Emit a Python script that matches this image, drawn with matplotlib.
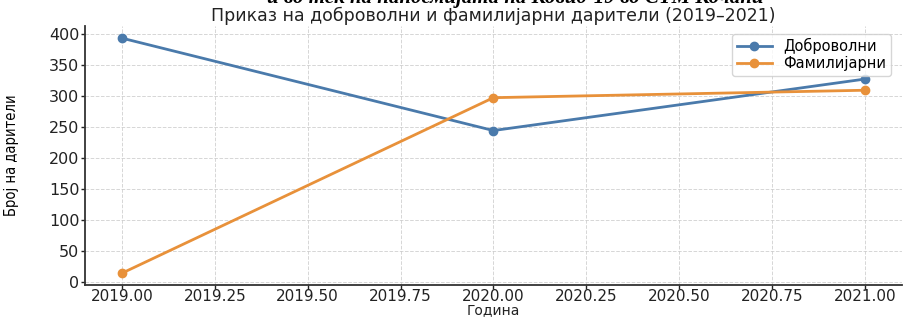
import matplotlib.pyplot as plt

years = [2019, 2020, 2021]
voluntary = [393, 244, 327]
family = [14, 297, 309]
series_labels = ["Доброволни", "Фамилијарни"]

BLUE = "#4a7aab"
ORANGE = "#e8913a"

fig = plt.figure(figsize=(9.12, 3.18), dpi=100)
ax = fig.add_axes([0.093, 0.104, 0.896, 0.813])

ax.plot(years, voluntary, marker="o", markersize=6, linewidth=2, color=BLUE, label=series_labels[0])
ax.plot(years, family, marker="o", markersize=6, linewidth=2, color=ORANGE, label=series_labels[1])

ax.set_xticks([2019 + 0.25 * i for i in range(9)])
ax.xaxis.set_major_formatter(plt.FormatStrFormatter("%.2f"))
ax.set_yticks(range(0, 401, 50))
ax.tick_params(axis="both", labelsize=11.5, length=3, width=1, colors="#222222", pad=1)
ax.tick_params(axis="x", labelsize=11, pad=0)

ax.grid(True, linestyle="--", linewidth=0.7, color="#cccccc", alpha=0.8)
ax.spines["top"].set_visible(False)
ax.spines["right"].set_visible(False)
for side in ["left", "bottom"]:
    ax.spines[side].set_color("#333333")
    ax.spines[side].set_linewidth(1.3)

ax.set_title("Приказ на доброволни и фамилијарни дарители (2019–2021)", fontsize=12.5, pad=4, color="#222222")
ax.set_xlabel("Година", fontsize=10, labelpad=-1, color="#222222")
ax.set_ylabel("Број на дарители", fontsize=10.5, fontstretch="condensed",
              family=["Liberation Sans Narrow", "DejaVu Sans"])
ax.yaxis.set_label_coords(-0.08, 0.5)

ax.legend(loc="upper right", fontsize=10.5, frameon=True, borderpad=0.3, labelspacing=0.15,
          handlelength=2.4, bbox_to_anchor=(0.995, 1.0))

# caption cut off at the top of the screenshot
fig.text(0.565, 0.99, "и во тек на пандемијата на Ковид-19 во СТМ Кочани", ha="center", va="baseline",
         fontsize=15, fontweight="bold", fontstyle="italic", family=["Liberation Serif", "DejaVu Serif"])

fig.savefig("out.png", dpi=100)
